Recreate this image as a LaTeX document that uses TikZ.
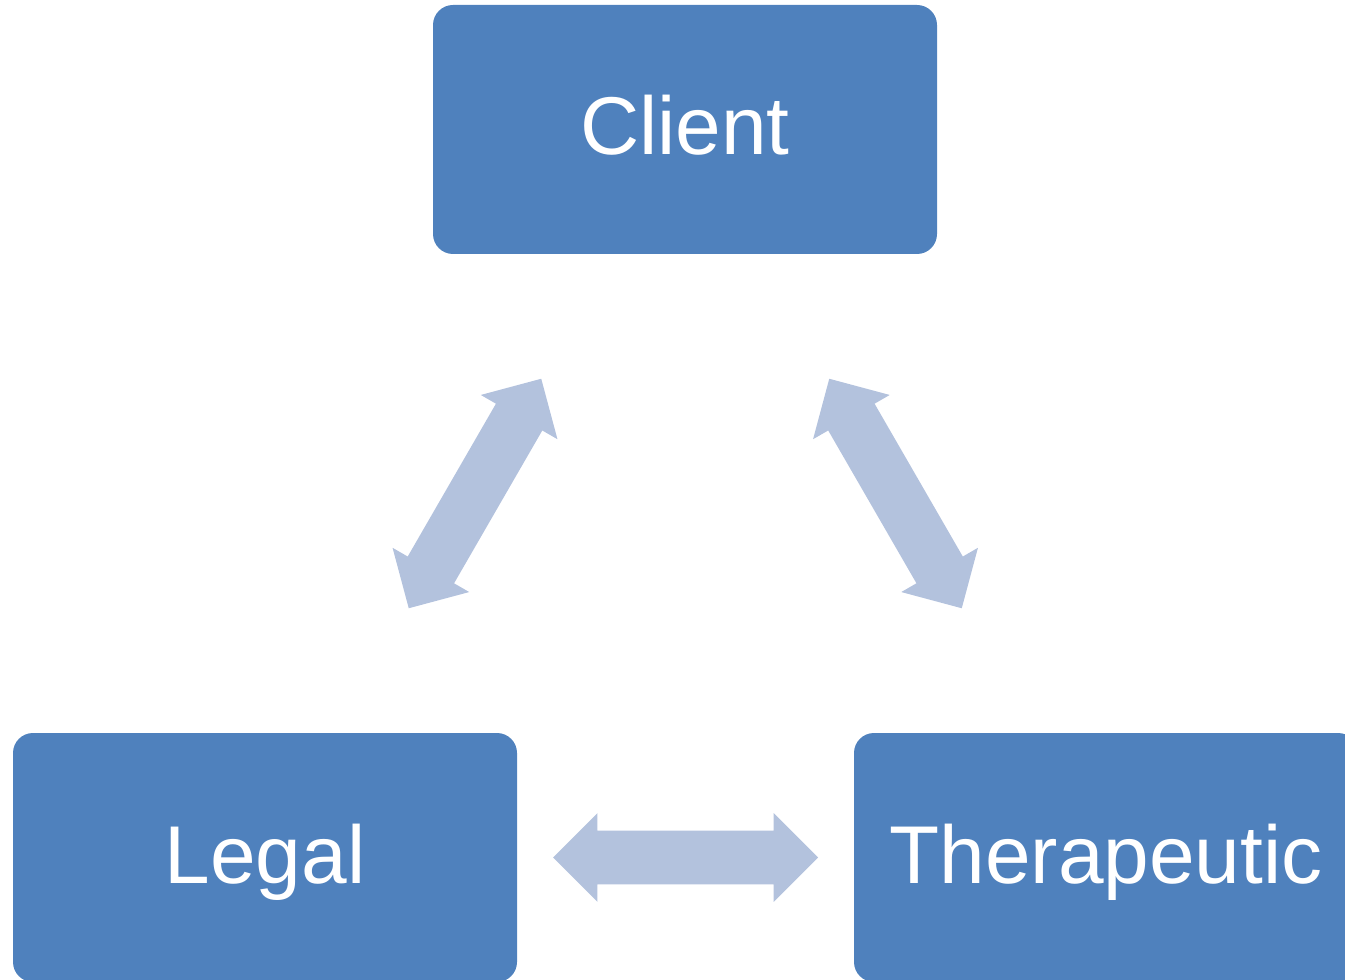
\documentclass[tikz,border=0pt]{standalone}
\usepackage{fontspec}
\setmainfont{Liberation Sans}
\usetikzlibrary{shapes.arrows,calc}

\definecolor{boxblue}{RGB}{79,129,189}
\definecolor{arrowblue}{RGB}{179,194,221}

\begin{document}
\begin{tikzpicture}[x=0.75pt,y=0.75pt,yscale=-1,xscale=1,
    partybox/.style={fill=boxblue, draw=none, rounded corners=15pt, minimum width=378pt, minimum height=186.75pt, inner sep=0pt, text height=38.25pt, text depth=0pt, text=white, font=\fontsize{61.5}{74}\selectfont},
    linkarrow/.style={shape=double arrow, fill=arrowblue, draw=none, inner xsep=0pt, inner ysep=19.875pt, minimum height=198.75pt, double arrow head extend=13.125pt}]
    \clip (0,0) rectangle (1345,980);

    % Boxes
    \node [partybox] (client) at (685,129.5) {Client};
    \node [partybox] (legal) at (265,857.5) {Legal};
    \node [partybox] (thera) at (1106,857.5) {Therapeutic};

    % Block arrows
    \node [linkarrow, rotate=60] (clientlegal) at ($(client)!0.5!(legal)$) {};
    \node [linkarrow, rotate=-60] (clientthera) at ($(client)!0.5!(thera)$) {};
    \node [linkarrow] (legalthera) at ($(legal)!0.5!(thera)$) {};

\end{tikzpicture}
\end{document}
